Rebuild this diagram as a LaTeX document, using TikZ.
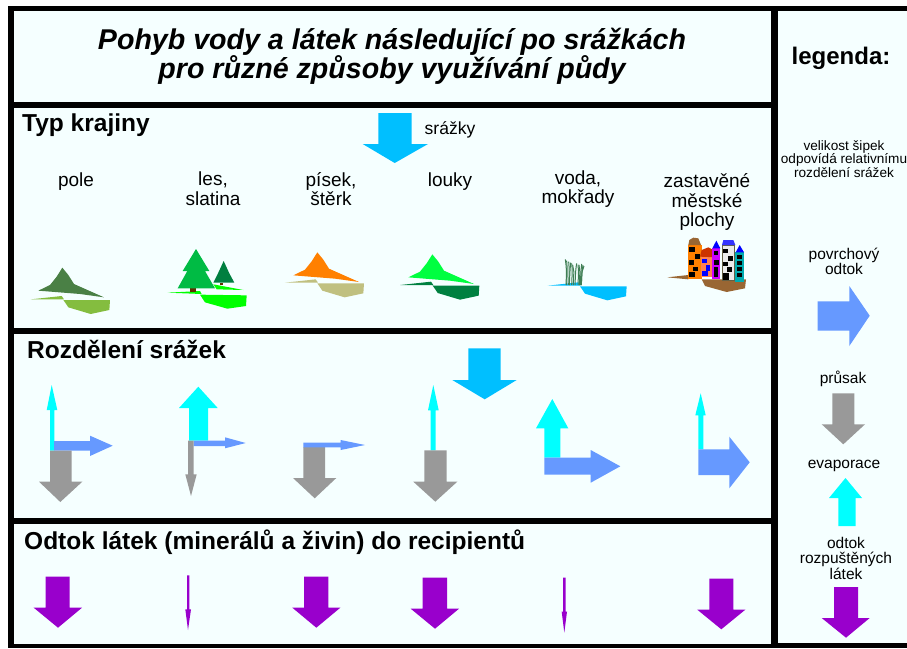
\documentclass[tikz,border=0pt]{standalone}
\usepackage{fontspec}
\setmainfont{Liberation Sans}
\definecolor{panel}{HTML}{F5FFFF}
\definecolor{runoff}{HTML}{6699FF}
\definecolor{seep}{HTML}{999999}
\definecolor{evap}{HTML}{00FFFF}
\definecolor{rain}{HTML}{00BFFF}
\definecolor{solute}{HTML}{9900CC}
\definecolor{fieldhill}{HTML}{4A8045}
\definecolor{fieldsoil}{HTML}{84BD3F}
\definecolor{brightgrass}{HTML}{00FF00}
\definecolor{firlight}{HTML}{00BB44}
\definecolor{firdark}{HTML}{007F40}
\definecolor{trunk}{HTML}{603000}
\definecolor{sandhill}{HTML}{FF8000}
\definecolor{sandsoil}{HTML}{C0C080}
\definecolor{meadow}{HTML}{00FF40}
\definecolor{meadowsoil}{HTML}{008040}
\definecolor{reed}{HTML}{3F7F55}
\definecolor{earth}{HTML}{996633}
\definecolor{salmon}{HTML}{FF8050}
\definecolor{brick}{HTML}{CC3300}
\definecolor{violet}{HTML}{CC00FF}
\definecolor{roofblue}{HTML}{3333FF}
\definecolor{teal}{HTML}{00ABB0}
\tikzset{
  panelbox/.style={fill=panel,draw=none},
  titletext/.style={font=\fontsize{28.6}{29}\selectfont\bfseries\itshape,align=center,inner sep=0pt},
  headtext/.style={font=\fontsize{24.5}{26}\selectfont\bfseries,anchor=base west,inner sep=0pt},
  landtext/.style={font=\fontsize{19}{19.5}\selectfont,align=center,inner sep=0pt},
  keytext/.style={font=\fontsize{15.5}{15}\selectfont,align=center,inner sep=0pt},
  smalltext/.style={font=\fontsize{13.6}{13.6}\selectfont,align=center,inner sep=0pt},
  zoomed/.style={x=0.33333pt,y=-0.33333pt},
}
% vertical arrow: colour, shaft left, shaft right, tail y, head base y, head left, head right, tip x, tip y
\newcommand{\vshaft}[9]{\fill[#1] (#2,#4) -- (#2,#5) -- (#6,#5) -- (#8,#9) -- (#7,#5) -- (#3,#5) -- (#3,#4) -- cycle;}
% horizontal arrow: colour, tail x, shaft top, shaft bottom, head base x, head top, head bottom, tip x, tip y
\newcommand{\hshaft}[9]{\fill[#1] (#2,#3) -- (#5,#3) -- (#5,#6) -- (#8,#9) -- (#5,#7) -- (#5,#4) -- (#2,#4) -- cycle;}
% terrain pieces, placed by an offset in the fine grid
\newcommand{\hillpiece}[3]{\fill[#3,shift={(#1*0.33333pt,#2*0.33333pt)}] (115,212) -- (150,195) -- (170,170) -- (187,143) -- (205,165) -- (222,192) -- (312,232) -- (240,222) -- cycle;}
\newcommand{\groundpiece}[3]{\fill[#3,shift={(#1*0.33333pt,#2*0.33333pt)}] (93,238) -- (185,228) -- (192,238) -- cycle (190,240) -- (330,240) -- (328,270) -- (272,282) -- (205,262) -- (197,250) -- cycle;}
\begin{document}
\begin{tikzpicture}[x=1pt,y=-1pt]
\useasboundingbox (0,0) rectangle (907,648);
\fill[white] (0,0) rectangle (907,648);
\fill[black] (8,5.5) rectangle (907,648);
% panels
\fill[panelbox] (14,11) rectangle (771,102);
\fill[panelbox] (14,108) rectangle (771,328);
\fill[panelbox] (14,334) rectangle (771,518);
\fill[panelbox] (14,524) rectangle (771,644);
\fill[panelbox] (778,11) rectangle (907,643);

% headings
\node[titletext] (title) at (392,56) {Pohyb vody a látek následující po srážkách\\pro různé způsoby využívání půdy};
\node[headtext] (krajina) at (22,131) {Typ krajiny};
\node[headtext] (rozdeleni) at (27,358) {Rozdělení srážek};
\node[headtext] (odtok) at (24,549) {Odtok látek (minerálů a živin) do recipientů};
\node[font=\fontsize{24}{26}\selectfont\bfseries,inner sep=0pt] (legenda) at (841,58) {legenda:};

% landscape captions
\node[font=\fontsize{17.5}{19}\selectfont,inner sep=0pt] (srazky) at (450,129.5) {srážky};
\node[landtext] (pole) at (76,181.5) {pole};
\node[landtext] (les) at (213,188.5) {les,\\slatina};
\node[landtext] (pisek) at (331,189) {písek,\\štěrk};
\node[landtext] (louky) at (450,181.5) {louky};
\node[landtext] (voda) at (578,189) {voda,\\mokřady};
\node[landtext] (mesto) at (707,202) {zastavěné\\městské\\plochy};

% legend captions
\node[smalltext] (velikost) at (844,159) {velikost šipek\\odpovídá relativnímu\\rozdělení srážek};
\node[keytext] (povrch) at (844,261) {povrchový\\odtok};
\node[keytext] (prusak) at (843,379) {průsak};
\node[keytext] (evaporace) at (844,466) {evaporace};
\node[keytext,font=\fontsize{15.5}{15.5}\selectfont] (latky) at (846,558) {odtok\\rozpuštěných\\látek};

% rainfall arrows
\vshaft{rain}{378.3}{411.7}{113}{144}{362.7}{428}{394.7}{163}
\vshaft{rain}{468.3}{500.7}{348.3}{380}{452.3}{516.7}{484.7}{399.3}

% field
\vshaft{evap}{50}{54.3}{450.7}{410}{46.7}{57.3}{51.7}{385}
\hshaft{runoff}{54}{441}{450.7}{90}{435.7}{456}{112.7}{445.7}
\vshaft{seep}{50}{71.7}{450.7}{481.7}{39}{82.3}{60.3}{502}
% forest
\vshaft{evap}{189}{208}{440.7}{408}{179}{217.7}{198.3}{386.7}
\hshaft{runoff}{193.7}{440.7}{446}{225}{437.3}{448.3}{245.7}{443}
\vshaft{seep}{188}{193.7}{440.7}{474.3}{185.3}{196.7}{191}{496}
% sand
\vshaft{seep}{303.3}{325}{447}{478}{293}{336.3}{314.7}{498.3}
\hshaft{runoff}{303.3}{442.7}{447.3}{340.7}{440}{450}{365}{445}
% meadow
\vshaft{evap}{430.7}{435.7}{450.3}{410.3}{428}{438.7}{433.3}{385}
\vshaft{seep}{424.3}{446.7}{450.3}{481.7}{413.3}{457.3}{435.3}{501.7}
% water
\vshaft{evap}{544.3}{560.3}{457.7}{428.3}{536}{568.3}{552.3}{399}
\hshaft{runoff}{544.3}{457.7}{474.7}{590.7}{450}{482.7}{620.3}{466.3}
% town
\vshaft{evap}{698.3}{703.3}{449.3}{415.3}{695.3}{705.7}{700.7}{393.3}
\hshaft{runoff}{698.3}{449.3}{475}{729.3}{436.7}{488.3}{749.7}{462.3}

% solute export
\vshaft{solute}{45.7}{69.7}{576.7}{607.7}{33.7}{82}{58}{627.7}
\vshaft{solute}{187}{189.3}{575.3}{609.3}{185.3}{191}{188}{630}
\vshaft{solute}{304}{328.3}{576.7}{607.7}{292.3}{340.3}{316.3}{627.7}
\vshaft{solute}{422.7}{447}{577.7}{608.7}{410.7}{459}{435}{628.7}
\vshaft{solute}{563}{565.7}{577.7}{611.7}{561.7}{567}{564.3}{632.7}
\vshaft{solute}{709.3}{733.3}{578.7}{609.7}{697.3}{745.3}{721.3}{629.3}

% legend arrows
\hshaft{runoff}{817.7}{301.3}{330.7}{849.3}{286}{346}{869.7}{315.7}
\vshaft{seep}{832.3}{854.3}{393.3}{424.3}{821.7}{865}{843.3}{444.3}
\vshaft{evap}{838.3}{855.7}{526}{498}{829}{862}{845.5}{478}
\vshaft{solute}{834}{858}{587}{618}{821.7}{869.7}{846}{637.7}

% terrain sketches, left part
\begin{scope}[shift={(0,220)},zoomed]
  \hillpiece{0}{0}{fieldhill}
  \groundpiece{0}{0}{fieldsoil}
  % forest
  \fill[brightgrass] (503,218) -- (600,213) -- (605,222) -- cycle;
  \fill[brightgrass] (640,193) -- (730,210) -- (650,208) -- cycle;
  \fill[brightgrass] (600,224) -- (740,226) -- (738,258) -- (682,266) -- (615,247) -- cycle;
  \fill[trunk] (570,205) rectangle (588,215);
  \fill[trunk] (660,190) rectangle (668,196);
  \fill[firlight] (533,205) -- (562,153) -- (548,153) -- (588,87) -- (628,153) -- (615,153) -- (645,205) -- cycle;
  \fill[firdark] (640,188) -- (654,160) -- (671,123) -- (688,160) -- (703,188) -- cycle;
  % sand and gravel
  \hillpiece{765}{46}{sandhill}
  \groundpiece{762}{50}{sandsoil}
\end{scope}

% terrain sketches, right part
\begin{scope}[shift={(380,220)},zoomed]
  % meadow
  \hillpiece{-30}{40}{meadow}
  \groundpiece{-32}{43}{meadowsoil}
  % water with reeds
  \groundpiece{410}{41}{rain}
  \foreach \rx/\ry/\lean in {556/118/4,560/122/2,566/125/2,572/128/-2,575/130/2,578/135/4,590/130/-3,594/134/2,597/135/3,605/132/-2,609/135/-3,612/138/-6}
    \draw[reed,line width=1pt] (\rx,\ry) .. controls (\rx+\lean,150) .. (\rx+\lean-2,195);
  % town ground
  \fill[earth] (862,172) -- (925,165) -- (925,178) -- cycle;
  \fill[earth] (965,178) -- (1098,178) -- (1095,205) -- (1040,216) -- (975,198) -- cycle;
  % orange tower
  \fill[sandhill] (925,75) rectangle (965,178);
  \fill[earth] (925,75) -- (928,60) -- (940,53) -- (955,55) -- (963,75) -- cycle;
  \foreach \wx/\wy/\ww/\wh in {928/82/16/14,945/103/14/14,928/120/15/14,940/140/14/14,928/157/18/15}
    \fill[black] (\wx,\wy) rectangle +(\ww,\wh);
  % salmon house
  \fill[salmon] (962,110) rectangle (1000,170);
  \fill[brick] (960,110) -- (965,90) -- (985,82) -- (1000,90) -- (1010,112) -- cycle;
  \fill[blue] (965,117) rectangle (980,130);
  \fill[blue] (978,135) rectangle (991,152);
  \fill[blue] (965,153) rectangle (985,168);
  % violet tower
  \fill[violet] (997,85) rectangle (1020,178);
  \fill[blue] (997,85) -- (1009,62) -- (1021,85) -- cycle;
  \fill[black] (1002,92) rectangle (1015,105);
  \fill[black] (1002,120) rectangle (1016,134);
  \fill[black] (1002,140) rectangle (1015,170);
  % white tower
  \filldraw[fill=black!8,draw=black!70!yellow,line width=0.7pt] (1026,75) rectangle (1064,182);
  \fill[roofblue] (1026,75) -- (1030,60) -- (1060,60) -- (1066,75) -- cycle;
  \foreach \wx/\wy/\ww/\wh in {1028/86/16/13,1045/108/13/15,1030/125/14/13,1040/142/15/15,1028/160/20/20}
    \fill[black] (\wx,\wy) rectangle +(\ww,\wh);
  % teal tower
  \fill[teal] (1066,97) rectangle (1092,186);
  \fill[blue] (1067,97) -- (1079,75) -- (1092,97) -- cycle;
  \foreach \wy in {104,122,140,158}
    \fill[black] (1070,\wy) rectangle +(17,12);
\end{scope}
\end{tikzpicture}
\end{document}
